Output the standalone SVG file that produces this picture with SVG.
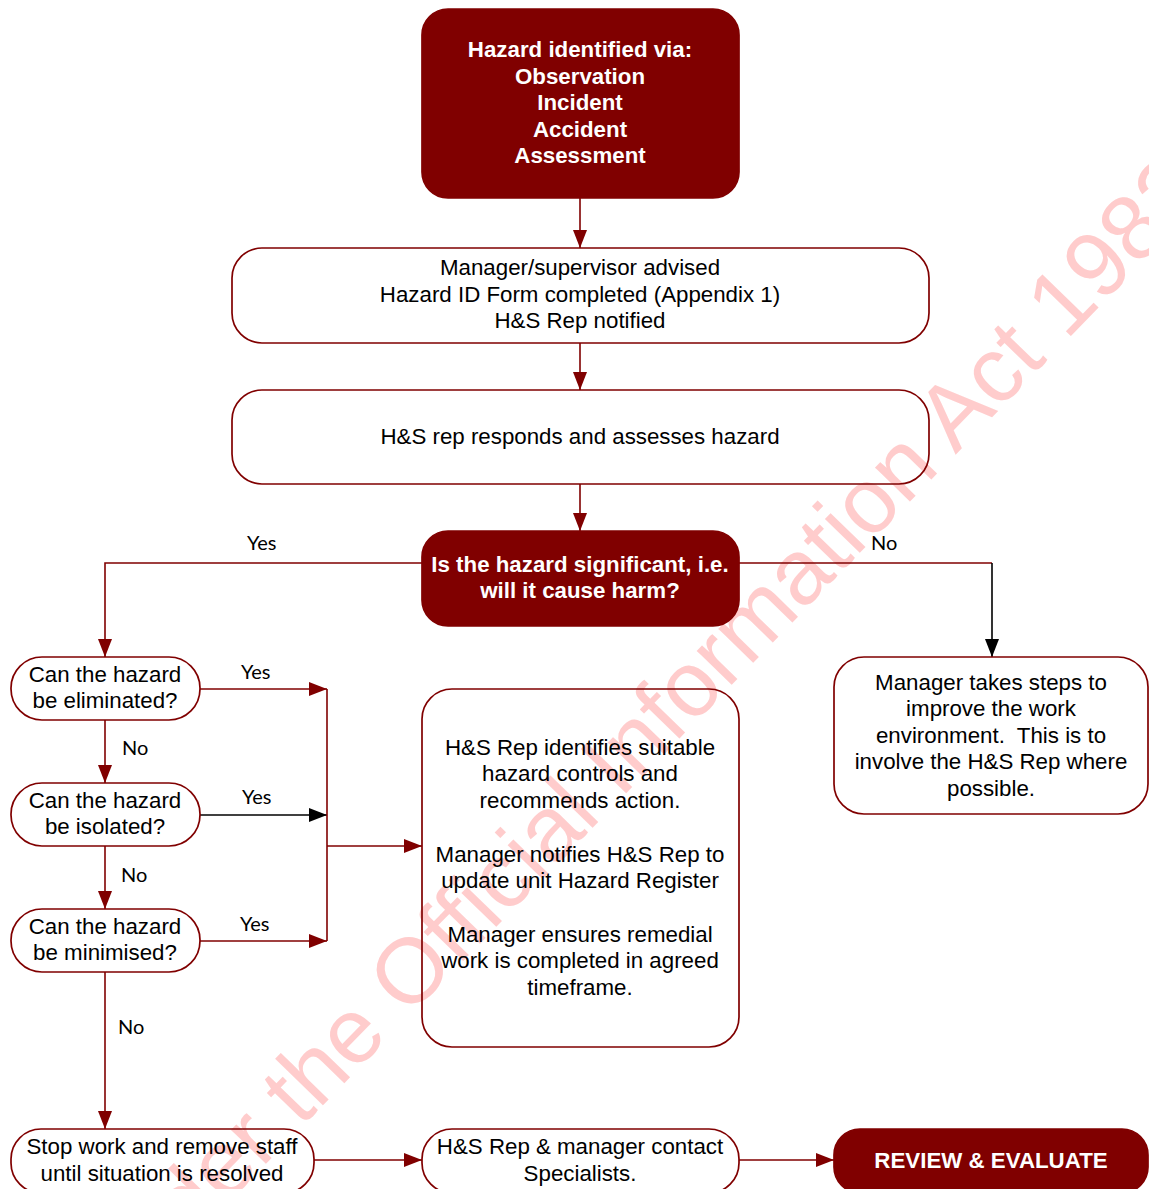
<svg xmlns="http://www.w3.org/2000/svg" width="1149" height="1189" viewBox="0 0 1149 1189">
<style>
  .wm { font-family: "Liberation Sans", Arial, sans-serif; font-size: 92px; fill: #ffcccc; }
  .box { fill: none; stroke: #800000; stroke-width: 1.7; }
  .dark { fill: #800000; stroke: #800000; stroke-width: 1.7; }
  .t { font-family: "Liberation Sans", Arial, sans-serif; font-size: 22.3px; fill: #000; text-anchor: middle; }
  .tb { font-family: "Liberation Sans", Arial, sans-serif; font-size: 22.3px; font-weight: bold; fill: #fff; text-anchor: middle; }
  .lbl { font-family: Lato, "Noto Sans", sans-serif; font-size: 20px; fill: #000; }
  .c { fill: none; stroke: #800000; stroke-width: 1.6; }
  .ck { fill: none; stroke: #000; stroke-width: 1.6; }
</style>
<defs>
  <marker id="ar" viewBox="0 0 18 14" refX="18" refY="7" markerWidth="18" markerHeight="14" markerUnits="userSpaceOnUse" orient="auto">
    <path d="M0,0 L18,7 L0,14 Z" fill="#800000"/>
  </marker>
  <marker id="ak" viewBox="0 0 18 14" refX="18" refY="7" markerWidth="18" markerHeight="14" markerUnits="userSpaceOnUse" orient="auto">
    <path d="M0,0 L18,7 L0,14 Z" fill="#000"/>
  </marker>
</defs>
<rect width="1149" height="1189" fill="#fff"/>
<text class="wm" x="-170" y="1612" transform="rotate(-45.8 -170 1612)">Released under the Official Information Act 1982</text>

<g id="connectors">
  <line class="c" x1="580" y1="198" x2="580" y2="248" marker-end="url(#ar)"/>
  <line class="c" x1="580" y1="343" x2="580" y2="390" marker-end="url(#ar)"/>
  <line class="c" x1="580" y1="484" x2="580" y2="531" marker-end="url(#ar)"/>
  <polyline class="c" points="422,563 105,563 105,657" marker-end="url(#ar)"/>
  <line class="c" x1="739" y1="563" x2="992" y2="563"/>
  <line class="ck" x1="992" y1="563" x2="992" y2="657" marker-end="url(#ak)"/>
  <line class="c" x1="105" y1="720" x2="105" y2="783" marker-end="url(#ar)"/>
  <line class="c" x1="105" y1="846" x2="105" y2="909" marker-end="url(#ar)"/>
  <line class="c" x1="105" y1="972" x2="105" y2="1129" marker-end="url(#ar)"/>
  <line class="c" x1="200" y1="689" x2="327" y2="689" marker-end="url(#ar)"/>
  <line class="ck" x1="200" y1="815" x2="327" y2="815" marker-end="url(#ak)"/>
  <line class="c" x1="200" y1="941" x2="327" y2="941" marker-end="url(#ar)"/>
  <line class="c" x1="327" y1="689" x2="327" y2="941"/>
  <line class="c" x1="327" y1="846" x2="422" y2="846" marker-end="url(#ar)"/>
  <line class="c" x1="314" y1="1160" x2="422" y2="1160" marker-end="url(#ar)"/>
  <line class="c" x1="739" y1="1160" x2="834" y2="1160" marker-end="url(#ar)"/>
  <text class="lbl" x="247" y="550">Yes</text>
  <text class="lbl" x="871" y="550">No</text>
  <text class="lbl" x="241" y="679">Yes</text>
  <text class="lbl" x="242" y="804">Yes</text>
  <text class="lbl" x="240" y="931">Yes</text>
  <text class="lbl" x="122" y="755">No</text>
  <text class="lbl" x="121" y="882">No</text>
  <text class="lbl" x="118" y="1034">No</text>
</g>

<g id="n-start">
  <rect class="dark" x="422" y="9" width="317" height="189" rx="26"/>
  <text class="tb" x="580" y="57">Hazard identified via:</text>
  <text class="tb" x="580" y="84">Observation</text>
  <text class="tb" x="580" y="110">Incident</text>
  <text class="tb" x="580" y="137">Accident</text>
  <text class="tb" x="580" y="163">Assessment</text>
</g>

<g id="n-advised">
  <rect class="box" x="232" y="248" width="697" height="95" rx="30"/>
  <text class="t" x="580" y="275">Manager/supervisor advised</text>
  <text class="t" x="580" y="302">Hazard ID Form completed (Appendix 1)</text>
  <text class="t" x="580" y="328">H&amp;S Rep notified</text>
</g>

<g id="n-assess">
  <rect class="box" x="232" y="390" width="697" height="94" rx="30"/>
  <text class="t" x="580" y="444">H&amp;S rep responds and assesses hazard</text>
</g>

<g id="n-significant">
  <rect class="dark" x="422" y="531" width="317" height="95" rx="26"/>
  <text class="tb" x="580" y="572">Is the hazard significant, i.e.</text>
  <text class="tb" x="580" y="598">will it cause harm?</text>
</g>

<g id="n-eliminate">
  <rect class="box" x="11" y="657" width="189" height="63" rx="31"/>
  <text class="t" x="105" y="682">Can the hazard</text>
  <text class="t" x="105" y="708">be eliminated?</text>
</g>

<g id="n-isolate">
  <rect class="box" x="11" y="783" width="189" height="63" rx="31"/>
  <text class="t" x="105" y="808">Can the hazard</text>
  <text class="t" x="105" y="834">be isolated?</text>
</g>

<g id="n-minimise">
  <rect class="box" x="11" y="909" width="189" height="63" rx="31"/>
  <text class="t" x="105" y="934">Can the hazard</text>
  <text class="t" x="105" y="960">be minimised?</text>
</g>

<g id="n-controls">
  <rect class="box" x="422" y="689" width="317" height="358" rx="30"/>
  <text class="t" x="580" y="755">H&amp;S Rep identifies suitable</text>
  <text class="t" x="580" y="781">hazard controls and</text>
  <text class="t" x="580" y="808">recommends action.</text>
  <text class="t" x="580" y="862">Manager notifies H&amp;S Rep to</text>
  <text class="t" x="580" y="888">update unit Hazard Register</text>
  <text class="t" x="580" y="942">Manager ensures remedial</text>
  <text class="t" x="580" y="968">work is completed in agreed</text>
  <text class="t" x="580" y="995">timeframe.</text>
</g>

<g id="n-improve">
  <rect class="box" x="834" y="657" width="314" height="157" rx="30"/>
  <text class="t" x="991" y="690">Manager takes steps to</text>
  <text class="t" x="991" y="716">improve the work</text>
  <text class="t" x="991" y="743">environment.&#160; This is to</text>
  <text class="t" x="991" y="769">involve the H&amp;S Rep where</text>
  <text class="t" x="991" y="796">possible.</text>
</g>

<g id="n-stop">
  <rect class="box" x="11" y="1129" width="303" height="64" rx="30"/>
  <text class="t" x="162" y="1154">Stop work and remove staff</text>
  <text class="t" x="162" y="1181">until situation is resolved</text>
</g>

<g id="n-specialists">
  <rect class="box" x="422" y="1129" width="317" height="64" rx="30"/>
  <text class="t" x="580" y="1154">H&amp;S Rep &amp; manager contact</text>
  <text class="t" x="580" y="1181">Specialists.</text>
</g>

<g id="n-review">
  <rect class="dark" x="834" y="1129" width="314" height="64" rx="26"/>
  <text class="tb" x="991" y="1168">REVIEW &amp; EVALUATE</text>
</g>
</svg>
